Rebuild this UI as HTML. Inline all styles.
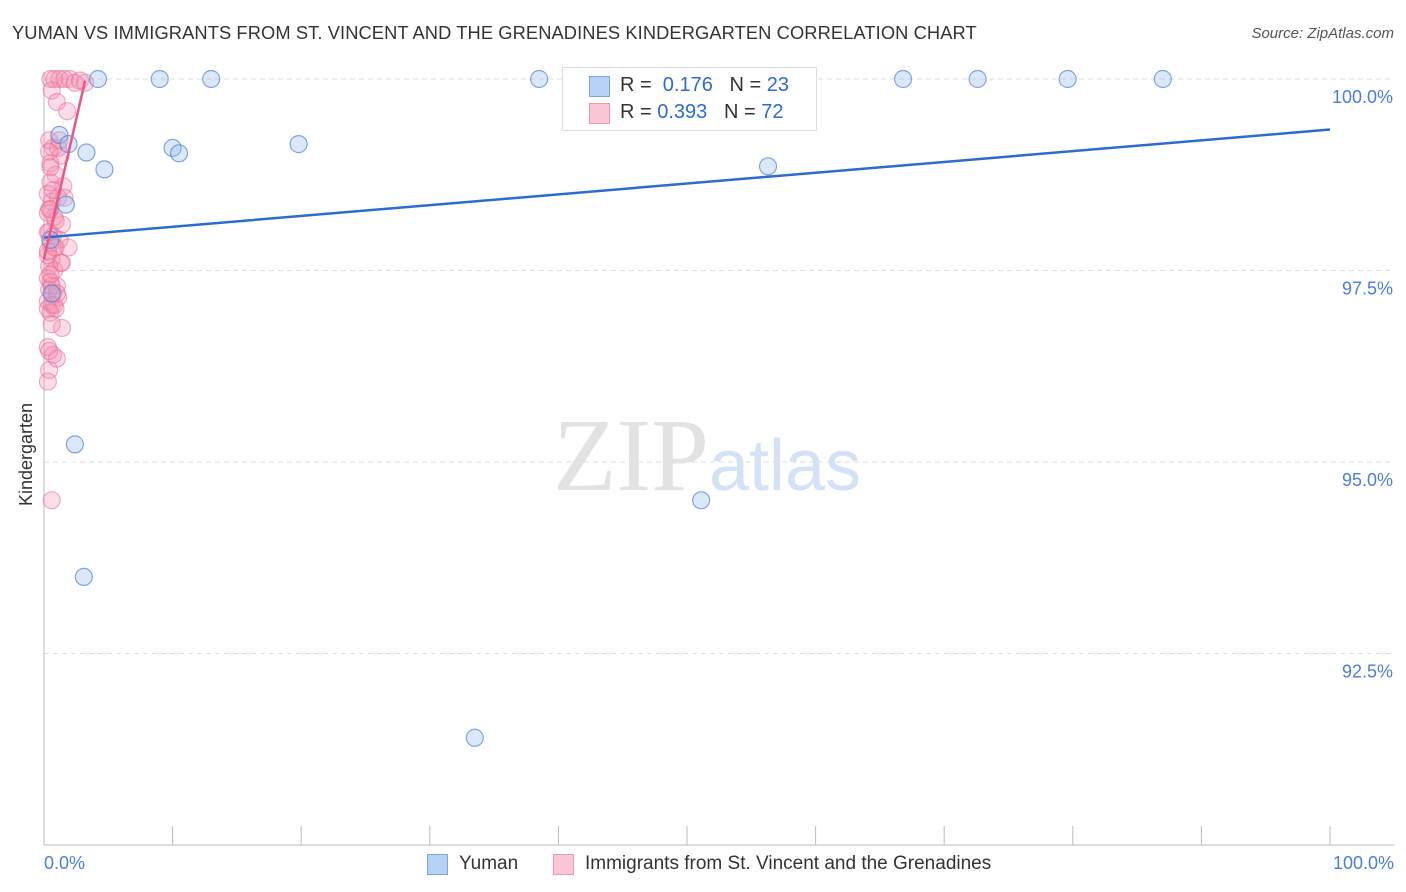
<!DOCTYPE html>
<html><head><meta charset="utf-8">
<style>
body{margin:0;background:#fff;font-family:"Liberation Sans",sans-serif;}
#wrap{position:relative;width:1406px;height:892px;overflow:hidden;}
.t{position:absolute;white-space:nowrap;}
</style></head>
<body>
<div id="wrap">
<div class="t" style="left:12px;top:22px;font-size:18.3px;color:#333;letter-spacing:0.1px">YUMAN VS IMMIGRANTS FROM ST. VINCENT AND THE GRENADINES KINDERGARTEN CORRELATION CHART</div>
<div class="t" style="right:12px;top:25px;font-size:15px;color:#555;font-style:italic">Source: ZipAtlas.com</div>
<svg id="svg" width="1406" height="892" style="position:absolute;left:0;top:0"></svg>
</div>
<script>
const yumanX=[4.2,9,13,38.5,66.8,72.6,79.6,87,1.2,1.9,3.3,4.7,10,10.5,19.8,1.7,56.3,2.4,51.1,3.1,33.5,0.6,0.5];
const yumanY=[100,100,100,100,100,100,100,100,99.27,99.15,99.04,98.82,99.1,99.03,99.15,98.36,98.86,95.23,94.5,93.5,91.4,97.2,97.9];
const vincX=[0.5,0.8,1.2,1.6,2,2.4,2.8,3.2,0.6,1,1.8,0.4,0.7,1.3,0.5,0.9,1.5,0.3,0.6,1.1,0.4,0.8,1.4,0.3,0.7,1.2,0.5,0.9,0.3,0.6,1.3,0.4,0.8,0.3,0.5,1,0.4,0.7,1.1,0.3,0.6,0.9,0.5,1.4,0.3,0.7,0.4,1,0.3,0.6,0.5,1.1,0.4,0.8,0.3,0.6,1.4,0.5,0.9,0.4,0.7,0.3,0.5,1,0.6,0.4,0.8,1.6,0.3,0.5,1.9,1.2];
const vincY=[100,100,100,100,100,99.95,99.98,99.95,99.85,99.7,99.58,99.2,99.1,99.0,98.9,98.75,98.6,98.5,98.4,98.45,98.3,98.2,98.1,98.0,97.95,97.9,97.85,97.8,97.7,97.65,97.6,97.55,97.5,97.4,97.35,97.3,97.25,97.2,97.15,97.1,97.05,97.0,96.95,96.75,96.5,96.4,96.2,96.35,96.05,94.5,98.65,99.1,98.0,97.8,97.0,97.3,97.6,98.3,98.15,99.05,98.55,97.75,97.45,97.2,96.8,96.45,97.05,98.45,98.25,98.85,97.8,99.2];
const yTicks=[100,97.5,95,92.5];
const yTickLabels=["100.0%","97.5%","95.0%","92.5%"];
const trendBlue=[97.93,99.34];  // y at x=0 and x=100
const trendPink=[97.65,99.98,3.2]; // y at x=0, y at x=end, end x
const NS="http://www.w3.org/2000/svg";
const svg=document.getElementById('svg');
const X0=44,X1=1330,Y0=79,Y1=845;
const sx=v=>X0+(v/100)*(X1-X0);
const sy=v=>Y0+(100-v)/10*(Y1-Y0);
function mk(tag,a){const e=document.createElementNS(NS,tag);for(const k in a)e.setAttribute(k,a[k]);svg.appendChild(e);return e;}
yTicks.forEach((t,i)=>{
 const g=mk('line',{x1:X0,x2:1394,y1:sy(t),y2:sy(t),stroke:'#ddd','stroke-dasharray':'5,4'});
 
 const l=mk('text',{x:1393,y:sy(t)+24,'text-anchor':'end','font-size':18,fill:'#4a7fd6','font-family':'Liberation Sans'});
 l.textContent=yTickLabels[i];
 
});
let ax=mk('line',{x1:X0,x2:X0,y1:72,y2:Y1,stroke:'#bbb'});

ax=mk('line',{x1:X0,x2:1394,y1:Y1,y2:Y1,stroke:'#bbb'});

for(let i=1;i<=10;i++){const tk=mk('line',{x1:sx(i*10),x2:sx(i*10),y1:826,y2:Y1,stroke:'#bbb'});
 }
const wm=mk('text',{x:553,y:490,'text-anchor':'start','font-size':104,'font-family':'Liberation Serif',fill:'#e2e2e2'});
wm.innerHTML='ZIP<tspan font-family="Liberation Sans" font-size="72" fill="#d3e2f5">atlas</tspan>';

vincX.forEach((v,i)=>{const c=mk('circle',{cx:sx(v),cy:sy(vincY[i]),r:8.5,fill:'rgba(244,143,177,0.3)',stroke:'rgba(232,110,150,0.55)','stroke-width':1.2});
 });
yumanX.forEach((v,i)=>{const c=mk('circle',{cx:sx(v),cy:sy(yumanY[i]),r:8.5,fill:'rgba(150,190,240,0.35)',stroke:'rgba(80,130,210,0.7)','stroke-width':1.2});
 });
let tl=mk('line',{x1:sx(0),y1:sy(trendBlue[0]),x2:sx(100),y2:sy(trendBlue[1]),stroke:'#2a6ccf','stroke-width':2.5});

tl=mk('line',{x1:sx(0),y1:sy(trendPink[0]),x2:sx(trendPink[2]),y2:sy(trendPink[1]),stroke:'#e8578a','stroke-width':2.5});

</script>
<div class="t" style="left:-25px;top:444px;font-size:18px;color:#333;transform:rotate(-90deg)">Kindergarten</div>
<div class="t" style="left:44px;top:853px;font-size:18px;color:#4a7fd6">0.0%</div>
<div class="t" style="right:12px;top:853px;font-size:18px;color:#4a7fd6">100.0%</div>
<div style="position:absolute;left:562px;top:67px;width:253px;height:62px;border:1px solid #ddd;background:#fff;font-size:20px;color:#333">
 <div style="position:absolute;left:26px;top:8px;width:19px;height:19px;background:#b8d2f5;border:1px solid #7aa6e0"></div>
 <div class="t" style="left:57px;top:6px">R = &nbsp;<span style="color:#2a6ccf">0.176</span>&nbsp;&nbsp;&nbsp;N = <span style="color:#2a6ccf">23</span></div>
 <div style="position:absolute;left:26px;top:35px;width:19px;height:19px;background:#fac5d5;border:1px solid #ef98b4"></div>
 <div class="t" style="left:57px;top:33px">R = <span style="color:#2a6ccf">0.393</span>&nbsp;&nbsp;&nbsp;N = <span style="color:#2a6ccf">72</span></div>
</div>
<div style="position:absolute;left:427px;top:853px;font-size:19px;color:#333">
 <div style="position:absolute;left:0;top:1px;width:19px;height:19px;background:#b8d2f5;border:1px solid #7aa6e0"></div>
 <span style="position:absolute;left:32px;white-space:nowrap">Yuman</span></div>
<div style="position:absolute;left:553px;top:853px;font-size:19px;color:#333">
 <div style="position:absolute;left:0;top:1px;width:19px;height:19px;background:#fac5d5;border:1px solid #ef98b4"></div>
 <span style="position:absolute;left:32px;white-space:nowrap">Immigrants from St. Vincent and the Grenadines</span></div>
</body></html>
